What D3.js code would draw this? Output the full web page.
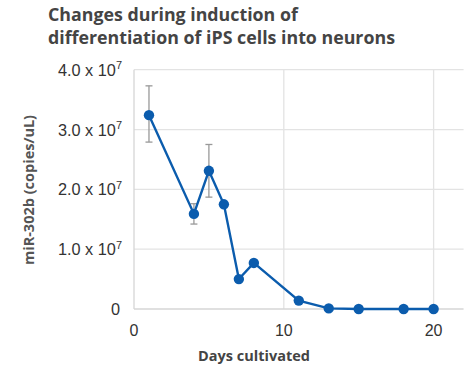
<!DOCTYPE html>
<html>
<head>
<meta charset="utf-8">
<script src="https://cdn.jsdelivr.net/npm/d3@7"></script>
<style>
  html, body { margin: 0; padding: 0; background: #fff; }
  svg { display: block; }
</style>
</head>
<body>
<svg id="chart" width="469" height="372"></svg>
<script>
// miR-302b expression during neuronal differentiation of iPS cells
const days = [1, 4, 5, 6, 7, 8, 11, 13, 15, 18, 20];
const copies = [3.24e7, 1.59e7, 2.31e7, 1.75e7, 0.50e7, 0.77e7, 0.14e7, 0.01e7, 0.0, 0.0, 0.0];
// error bar limits (null where no bar is drawn)
const errLow  = [2.79e7, 1.42e7, 1.87e7, null, null, null, null, null, null, null, null];
const errHigh = [3.73e7, 1.76e7, 2.75e7, null, null, null, null, null, null, null, null];
const yTicks = [0, 1e7, 2e7, 3e7, 4e7];
const yTickMantissa = ["0", "1.0", "2.0", "3.0", "4.0"];
const xTicks = [0, 10, 20];
const titleLines = ["Changes during induction of", "differentiation of iPS cells into neurons"];

const svg = d3.select("#chart");
const margin = { left: 134 };

const x = d3.scaleLinear().domain([0, 22]).range([margin.left, margin.left + 22 * 14.98]);
const y = d3.scaleLinear().domain([0, 4e7]).range([309, 69.7]);

// Title
svg.append("g").selectAll("text").data(titleLines).join("text")
  .attr("x", 48).attr("y", (d, i) => 20.5 + i * 23.5)
  .attr("font-family", "'Open Sans', sans-serif")
  .attr("font-weight", 700).attr("font-size", 17.8)
  .attr("fill", "#444").text(d => d);

// Gridlines
const grid = svg.append("g");
grid.selectAll("line.h").data(yTicks.slice(1)).join("line").attr("class", "h")
  .attr("x1", x(0)).attr("x2", x(22)).attr("y1", d => y(d)).attr("y2", d => y(d))
  .attr("stroke", "#e3e3e3").attr("stroke-width", 1.3);
grid.selectAll("line.v").data(xTicks.slice(1)).join("line").attr("class", "v")
  .attr("x1", d => x(d)).attr("x2", d => x(d)).attr("y1", y(4e7)).attr("y2", y(0))
  .attr("stroke", "#e3e3e3").attr("stroke-width", 1.3);

// Axis lines
svg.append("line").attr("x1", x(0)).attr("x2", x(0)).attr("y1", y(4e7)).attr("y2", y(0))
  .attr("stroke", "#d6d6d6").attr("stroke-width", 1.3);
svg.append("line").attr("x1", x(0)).attr("x2", x(22)).attr("y1", y(0)).attr("y2", y(0))
  .attr("stroke", "#d6d6d6").attr("stroke-width", 1.3);

// Y tick labels, written as mantissa x 10^7
const yl = svg.append("g").selectAll("text").data(yTicks).join("text")
  .attr("x", 122).attr("y", d => y(d) + 6)
  .attr("text-anchor", "end")
  .attr("font-family", "'Liberation Sans', Arial, sans-serif")
  .attr("font-size", 16.3).attr("fill", "#333");
yl.each(function(d, i) {
  const t = d3.select(this);
  if (d === 0) { t.attr("x", 120).text("0"); return; }
  t.append("tspan").text(yTickMantissa[i] + " x 10");
  t.append("tspan").attr("dy", -6.5).attr("font-size", 11).text("7");
});

// X tick labels
svg.append("g").selectAll("text").data(xTicks).join("text")
  .attr("x", d => x(d)).attr("y", 336)
  .attr("text-anchor", "middle")
  .attr("font-family", "'Liberation Sans', Arial, sans-serif")
  .attr("font-size", 16).attr("fill", "#333").text(d => d);

// Axis titles
svg.append("text").attr("x", 254).attr("y", 361).attr("text-anchor", "middle")
  .attr("font-family", "'Open Sans', sans-serif").attr("font-weight", 700)
  .attr("font-size", 14.5).attr("fill", "#444").text("Days cultivated");
svg.append("text").attr("transform", "translate(33.5,190) rotate(-90)").attr("text-anchor", "middle")
  .attr("font-family", "'Open Sans', sans-serif").attr("font-weight", 700)
  .attr("font-size", 14.5).attr("fill", "#555").text("miR-302b (copies/uL)");

// Error bars
const pts = days.map((d, i) => ({ d, v: copies[i], lo: errLow[i], hi: errHigh[i] }));
const eb = svg.append("g").selectAll("g").data(pts.filter(p => p.lo !== null)).join("g")
  .attr("stroke", "#999").attr("stroke-width", 1.3);
eb.append("line").attr("x1", p => x(p.d)).attr("x2", p => x(p.d))
  .attr("y1", p => y(p.lo)).attr("y2", p => y(p.hi));
eb.append("line").attr("x1", p => x(p.d) - 3.5).attr("x2", p => x(p.d) + 3.5)
  .attr("y1", p => y(p.lo)).attr("y2", p => y(p.lo));
eb.append("line").attr("x1", p => x(p.d) - 3.5).attr("x2", p => x(p.d) + 3.5)
  .attr("y1", p => y(p.hi)).attr("y2", p => y(p.hi));

// Line and markers
const color = "#0b5cad";
svg.append("path").datum(pts)
  .attr("d", d3.line().x(p => x(p.d)).y(p => y(p.v)))
  .attr("fill", "none").attr("stroke", color).attr("stroke-width", 2.4);
svg.append("g").selectAll("circle").data(pts).join("circle")
  .attr("cx", p => x(p.d)).attr("cy", p => y(p.v)).attr("r", 5.2)
  .attr("fill", color);
</script>
</body>
</html>
